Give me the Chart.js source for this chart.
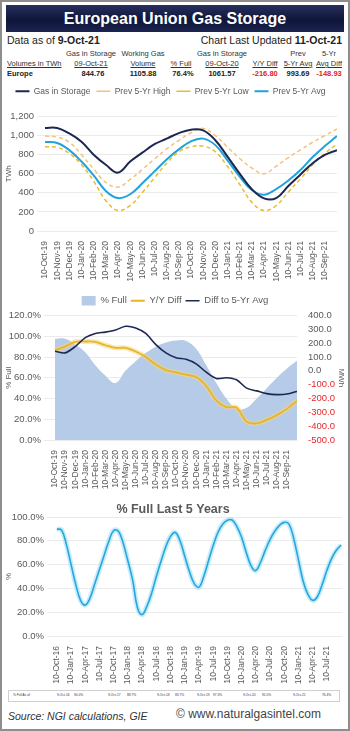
<!DOCTYPE html>
<html>
<head>
<meta charset="utf-8">
<script src="https://cdn.jsdelivr.net/npm/chart.js@4/dist/chart.umd.min.js"></script>
<style>
html,body{margin:0;padding:0;background:#fff;}
#page{position:relative;width:350px;height:731px;overflow:hidden;font-family:"Liberation Sans",Arial,sans-serif;color:#222;}
#frame{position:absolute;left:0;top:0;width:350px;height:731px;box-sizing:border-box;border:2px solid #8e8e8e;pointer-events:none;}
.a{position:absolute;white-space:nowrap;}
#title{left:6px;top:5px;width:338px;height:27px;background:linear-gradient(#27305e,#0f1639 55%,#1b2350);color:#fff;font-weight:bold;font-size:16px;text-align:center;line-height:27px;}
.hd{font-size:7.5px;color:#333;text-align:center;transform:translateX(-50%);}
.u{text-decoration:underline;}
.val{font-size:7.5px;font-weight:bold;color:#222;transform:translateX(-50%);}
.red{color:#e32320;}
canvas{position:absolute;}
#foot{left:8px;top:690px;width:332px;height:12px;box-sizing:border-box;border:1px solid #d0d0d0;}
.ft{font-size:8px;line-height:8px;color:#333;top:694px;transform:scale(0.4);transform-origin:left top;}
</style>
</head>
<body>
<div id="page">
  <div id="title" class="a">European Union Gas Storage</div>
  <div class="a" style="left:7px;top:34px;font-size:10.5px;">Data as of <b>9-Oct-21</b></div>
  <div class="a" style="right:8px;top:34px;font-size:10.5px;">Chart Last Updated <b>11-Oct-21</b></div>

  <div class="a hd" style="left:91px;top:49px;">Gas in Storage</div>
  <div class="a hd" style="left:143px;top:49px;">Working Gas</div>
  <div class="a hd" style="left:222px;top:49px;">Gas in Storage</div>
  <div class="a hd" style="left:298px;top:49px;">Prev</div>
  <div class="a hd" style="left:329px;top:49px;">5-Yr</div>

  <div class="a hd u" style="left:7px;top:59px;transform:none;text-align:left;">Volumes in TWh</div>
  <div class="a hd u" style="left:91px;top:59px;">09-Oct-21</div>
  <div class="a hd u" style="left:143px;top:59px;">Volume</div>
  <div class="a hd u" style="left:181px;top:59px;">% Full</div>
  <div class="a hd u" style="left:222px;top:59px;">09-Oct-20</div>
  <div class="a hd u" style="left:265px;top:59px;">Y/Y Diff</div>
  <div class="a hd u" style="left:298px;top:59px;">5-Yr Avg</div>
  <div class="a hd u" style="left:329px;top:59px;">Avg Diff</div>

  <div class="a val" style="left:7px;top:69px;transform:none;">Europe</div>
  <div class="a val" style="left:93px;top:69px;">844.76</div>
  <div class="a val" style="left:143px;top:69px;">1105.88</div>
  <div class="a val" style="left:183px;top:69px;">76.4%</div>
  <div class="a val" style="left:222px;top:69px;">1061.57</div>
  <div class="a val red" style="left:265px;top:69px;">-216.80</div>
  <div class="a val" style="left:298px;top:69px;">993.69</div>
  <div class="a val red" style="left:329px;top:69px;">-148.93</div>

  <canvas id="c1" width="346" height="201" style="left:2px;top:81px;"></canvas>
  <canvas id="c2" width="346" height="208" style="left:2px;top:292px;"></canvas>
  <canvas id="c3" width="344" height="186" style="left:2px;top:500px;"></canvas>

  <div id="foot" class="a"></div>
  <div class="a ft" style="left:13px;">% Full As of</div>
  <div class="a ft" style="left:57px;">9-Oct-16</div><div class="a ft" style="left:74px;">90.0%</div>
  <div class="a ft" style="left:108px;">9-Oct-17</div><div class="a ft" style="left:127px;">88.7%</div>
  <div class="a ft" style="left:157px;">9-Oct-18</div><div class="a ft" style="left:175px;">83.7%</div>
  <div class="a ft" style="left:197px;">9-Oct-19</div><div class="a ft" style="left:213px;">97.3%</div>
  <div class="a ft" style="left:243px;">9-Oct-20</div><div class="a ft" style="left:262px;">95.5%</div>
  <div class="a ft" style="left:293px;">9-Oct-21</div><div class="a ft" style="left:322px;">76.4%</div>

  <div class="a" style="left:8px;top:710px;font-size:10.5px;font-style:italic;color:#333;">Source: NGI calculations, GIE</div>
  <div class="a" style="left:176px;top:707px;font-size:12px;color:#444;">© www.naturalgasintel.com</div>
  <div id="frame"></div>
</div>
<script>
// ---------- DATA ----------
const months2y = ['10-Oct-19','10-Nov-19','10-Dec-19','10-Jan-20','10-Feb-20','10-Mar-20','10-Apr-20','10-May-20','10-Jun-20','10-Jul-20','10-Aug-20','10-Sep-20','10-Oct-20','10-Nov-20','10-Dec-20','10-Jan-21','10-Feb-21','10-Mar-21','10-Apr-21','10-May-21','10-Jun-21','10-Jul-21','10-Aug-21','10-Sep-21'];
// monthly values, 10-Oct-19 .. 9-Oct-21 (TWh)
const gasInStorage = [1080,1080,1022,935,800,694,612,728,821,910,968,1026,1062,1054,951,780,602,438,342,345,472,592,711,797,848];
const prev5YrHigh  = [995,985,930,800,650,510,460,540,645,755,860,950,1030,1075,1000,880,760,660,600,680,770,850,930,1000,1070];
const prev5YrLow   = [882,877,814,694,523,318,215,267,403,557,711,831,882,890,831,677,489,301,215,267,410,547,694,814,910];
const prev5YrAvg   = [933,923,848,728,582,420,345,385,500,625,750,855,940,968,900,740,570,430,380,440,530,640,775,890,995];

const pctFull      = [97.5,97.5,92,84.5,72,62,55,67,76,84,90,94,96,95.5,88,72,55,40,30,31,40,50,60,69,76.4];
const yyDiff       = [150,175,210,212,210,185,166,166,140,100,45,5,-12,-28,-45,-110,-215,-263,-265,-367,-380,-355,-320,-275,-217];
const diffTo5YrAvg = [141,130,175,240,270,280,295,322,310,270,190,130,95,83,50,-10,-55,-50,-65,-125,-145,-165,-172,-168,-149];

const quarters5y = ['10-Oct-16','10-Jan-17','10-Apr-17','10-Jul-17','10-Oct-17','10-Jan-18','10-Apr-18','10-Jul-16','10-Oct-18','10-Jan-19','10-Apr-19','10-Jul-19','10-Oct-19','10-Jan-20','10-Apr-20','10-Jul-20','10-Oct-20','10-Jan-21','10-Apr-21','10-Jul-21'];
// monthly % full, Oct-16 .. Oct-21
const pctFull5y = [90,89,77,60,43,30,26,32,44,56,68,80,
                   88.7,88,78,63,47,24,18,25,36,50,63,75,
                   83.7,87,80,67,54,44,41,50,63,76,87,94,
                   97.3,97.5,92,83,70,59,55,62,72,81,88,93,
                   95.5,94,82,64,46,35,30,33,43,55,65,72,
                   76.4];

// ---------- SETUP ----------
Chart.defaults.font.family = "'Liberation Sans', Arial, sans-serif";
Chart.defaults.color = '#595959';
const gray = '#595959';
const pts = arr => arr.map((v,i)=>({x:i,y:v}));
const legendGap = extra => ({id:'legendGap', beforeInit(chart){
  const l = chart.legend; if(!l) return; const f = l.fit;
  l.fit = function(){ f.bind(l)(); this.height += extra; };
}});

// ---------- CHART 1 ----------
new Chart(document.getElementById('c1'), {
  type:'line',
  data:{datasets:[
    {label:'Gas in Storage', data:pts(gasInStorage), borderColor:'#1c2852', borderWidth:2, pointRadius:0, tension:0.4},
    {label:'Prev 5-Yr High', data:pts(prev5YrHigh), borderColor:'#f3c27c', borderWidth:1.5, borderDash:[4,3], pointRadius:0, tension:0.4},
    {label:'Prev 5-Yr Low', data:pts(prev5YrLow), borderColor:'#e7bd2c', borderWidth:1.5, borderDash:[4,3], pointRadius:0, tension:0.4},
    {label:'Prev 5-Yr Avg', data:pts(prev5YrAvg), borderColor:'#1fa3dc', borderWidth:2, pointRadius:0, tension:0.4}
  ]},
  options:{
    responsive:false, animation:false, devicePixelRatio:1,
    layout:{padding:{left:2,right:11,top:0,bottom:0}},
    plugins:{
      legend:{labels:{usePointStyle:true, pointStyle:'line', pointStyleWidth:14, font:{size:8.5}, color:gray, padding:6}},
      tooltip:{enabled:false}
    },
    scales:{
      x:{type:'linear', min:0, max:24,
         afterBuildTicks:s=>{s.ticks = months2y.map((_,i)=>({value:i}));},
         afterFit:s=>{s.height=51;},
         ticks:{autoSkip:false, maxRotation:90, minRotation:90, font:{size:8.5}, padding:2, callback:v=>months2y[v]},
         grid:{display:false}, border:{display:false}},
      y:{min:0, max:1200,
         afterFit:s=>{s.width=41;},
         ticks:{stepSize:200, font:{size:9.5}, callback:v=>v.toLocaleString('en-US')},
         grid:{color:'#ebebeb'}, border:{display:false},
         title:{display:true, text:'TWh', font:{size:8}, color:gray, padding:0}}
    }
  },
  plugins:[legendGap(11)]
});

// ---------- CHART 2 ----------
new Chart(document.getElementById('c2'), {
  type:'line',
  data:{datasets:[
    {label:'Y/Y Diff', data:pts(yyDiff), yAxisID:'y2', borderColor:'#e9b525', borderWidth:1.8, pointRadius:0, tension:0.3, order:1, pointStyle:'line'},
    {label:'glow', data:pts(yyDiff), yAxisID:'y2', borderColor:'rgba(245,214,120,0.55)', borderWidth:5, pointRadius:0, tension:0.3, order:2},
    {label:'Diff to 5-Yr Avg', data:pts(diffTo5YrAvg), yAxisID:'y2', borderColor:'#1c2852', borderWidth:1.6, pointRadius:0, tension:0.3, order:0, pointStyle:'line'},
    {label:'% Full', data:pts(pctFull), yAxisID:'y', borderWidth:0, borderColor:'#b5cbe8', backgroundColor:'#b5cbe8', fill:'origin', pointRadius:0, tension:0.4, order:3, pointStyle:'rect'}
  ]},
  options:{
    responsive:false, animation:false, devicePixelRatio:1,
    layout:{padding:{left:2,right:2,top:0,bottom:0}},
    plugins:{
      legend:{labels:{usePointStyle:true, pointStyleWidth:14, font:{size:9.5}, color:gray, padding:4,
        filter:it=>it.text!=='glow',
        sort:(a,b)=>{const o={'% Full':0,'Y/Y Diff':1,'Diff to 5-Yr Avg':2}; return o[a.text]-o[b.text];}}},
      tooltip:{enabled:false}
    },
    scales:{
      x:{type:'linear', min:-0.3, max:24,
         afterBuildTicks:s=>{s.ticks = months2y.map((_,i)=>({value:i}));},
         afterFit:s=>{s.height=60;},
         ticks:{autoSkip:false, maxRotation:90, minRotation:90, font:{size:8.5}, padding:2, callback:v=>months2y[v]},
         grid:{display:false}, border:{display:false}},
      y:{position:'left', min:0, max:120,
         afterFit:s=>{s.width=48;},
         ticks:{stepSize:20, font:{size:9.5}, callback:v=>v.toFixed(1)+'%'},
         grid:{color:'#ebebeb'}, border:{display:false},
         title:{display:true, text:'% Full', font:{size:8}, color:gray, padding:0}},
      y2:{position:'right', min:-500, max:400,
         afterFit:s=>{s.width=49;},
         ticks:{stepSize:100, autoSkip:false, font:{size:9.5}, callback:v=>v.toFixed(1), color:c=>c.tick && c.tick.value<0 ? '#e8262b' : gray},
         grid:{display:false}, border:{display:false},
         title:{display:true, text:'MWh', font:{size:8}, color:gray, padding:0}}
    }
  }
});

// ---------- CHART 3 ----------
new Chart(document.getElementById('c3'), {
  type:'line',
  data:{datasets:[
    {label:'% Full', data:pts(pctFull5y), borderColor:'#27a6dd', borderWidth:1.6, pointRadius:0, tension:0.4, order:0},
    {label:'glow', data:pts(pctFull5y), borderColor:'rgba(150,220,245,0.55)', borderWidth:5, pointRadius:0, tension:0.4, order:1}
  ]},
  options:{
    responsive:false, animation:false, devicePixelRatio:1,
    layout:{padding:{left:2,right:4,top:0,bottom:0}},
    plugins:{
      legend:{display:false},
      title:{display:true, text:'% Full Last 5 Years', font:{size:12.5, weight:'bold'}, color:'#595959', padding:{top:2,bottom:0}},
      tooltip:{enabled:false}
    },
    scales:{
      x:{type:'linear', min:-0.4, max:60.2,
         afterBuildTicks:s=>{s.ticks = quarters5y.map((_,i)=>({value:i*3}));},
         afterFit:s=>{s.height=50;},
         ticks:{autoSkip:false, maxRotation:90, minRotation:90, font:{size:8.5}, padding:2, callback:v=>quarters5y[v/3]},
         grid:{display:false}, border:{display:false}},
      y:{min:0, max:100,
         afterFit:s=>{s.width=51;},
         ticks:{stepSize:10, font:{size:9.5}, callback:v=>v.toFixed(1)+'%'},
         grid:{color:'#ebebeb'}, border:{display:false},
         title:{display:true, text:'%', font:{size:8}, color:gray, padding:0}}
    }
  }
});
</script>
</body>
</html>
